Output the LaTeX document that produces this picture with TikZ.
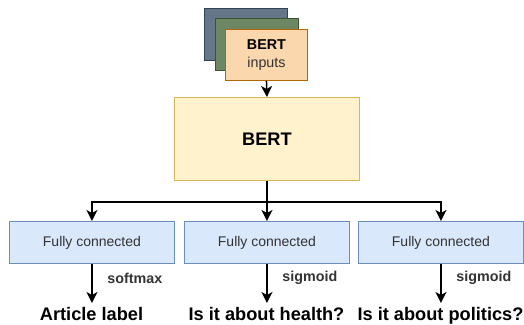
\documentclass[tikz,border=0pt]{standalone}
\usepackage{fontspec}
\setmainfont{Liberation Sans}
\usetikzlibrary{arrows.meta}
\definecolor{slatef}{HTML}{647687}
\definecolor{slated}{HTML}{314354}
\definecolor{greenf}{HTML}{6D8764}
\definecolor{greend}{HTML}{3A5431}
\definecolor{orangef}{HTML}{FAD7AC}
\definecolor{oranged}{HTML}{B46504}
\definecolor{bertf}{HTML}{FFF2CC}
\definecolor{bertd}{HTML}{D6B656}
\definecolor{fcf}{HTML}{DAE8FC}
\definecolor{fcd}{HTML}{6C8EBF}
\definecolor{txt}{HTML}{333333}
\begin{document}
\begin{tikzpicture}[x=1pt,y=-1pt,
  box/.style={draw, line width=0.9pt, inner sep=0pt, anchor=north west},
  fcbox/.style={box, fill=fcf, draw=fcd, minimum width=165pt, minimum height=42pt,
     font=\fontsize{14}{16}\selectfont, text=txt},
  conn/.style={line width=1.5pt, -{Stealth[length=11pt,width=11pt,inset=3pt]}},
  lbl/.style={font=\bfseries\fontsize{14.3}{16}\selectfont, text=txt, anchor=west},
  outp/.style={font=\bfseries\fontsize{18.2}{20}\selectfont, text=black, anchor=base}]
\useasboundingbox (0,0) rectangle (524,324);
\node[box, fill=slatef, draw=slated, minimum width=83pt, minimum height=52pt] (s1) at (204,8) {};
\node[box, fill=greenf, draw=greend, minimum width=83pt, minimum height=52pt] (s2) at (215,18) {};
\node[box, fill=orangef, draw=oranged, minimum width=82pt, minimum height=51pt, align=center,
  font=\fontsize{14.3}{18}\selectfont] (inp) at (225,29) {\textbf{BERT}\\\textcolor{txt}{inputs}};
\node[box, fill=bertf, draw=bertd, minimum width=185pt, minimum height=83pt,
  font=\bfseries\fontsize{18.2}{20}\selectfont] (bert) at (174,97) {BERT};
\node[fcbox] (fc1) at (9,221) {Fully connected};
\node[fcbox] (fc2) at (184,221) {Fully connected};
\node[fcbox] (fc3) at (358,221) {Fully connected};
\coordinate (j) at (bert.south |- 0,202);
\node[outp] (o1) at (91.5,320) {Article label};
\node[outp] (o2) at (266.5,320) {Is it about health?};
\node[outp] (o3) at (440.5,320) {Is it about politics?};
\coordinate (e1) at (fc1.south |- 0,303);
\coordinate (e2) at (fc2.south |- 0,303);
\coordinate (e3) at (fc3.south |- 0,303);
\draw[conn] (inp.south) -- (bert.north);
\draw[line width=1.5pt] (bert.south) -- (j);
\draw[conn] (j) -| (fc1.north);
\draw[conn] (j) -- (fc2.north);
\draw[conn] (j) -| (fc3.north);
\draw[conn] (fc1.south) -- (e1);
\draw[conn] (fc2.south) -- (e2);
\draw[conn] (fc3.south) -- (e3);
\node[lbl] (l1) at ([xshift=12pt]fc1.south |- 0,278) {softmax};
\node[lbl] (l2) at ([xshift=12pt]fc2.south |- 0,278) {sigmoid};
\node[lbl] (l3) at ([xshift=12pt]fc3.south |- 0,278) {sigmoid};
\end{tikzpicture}
\end{document}
